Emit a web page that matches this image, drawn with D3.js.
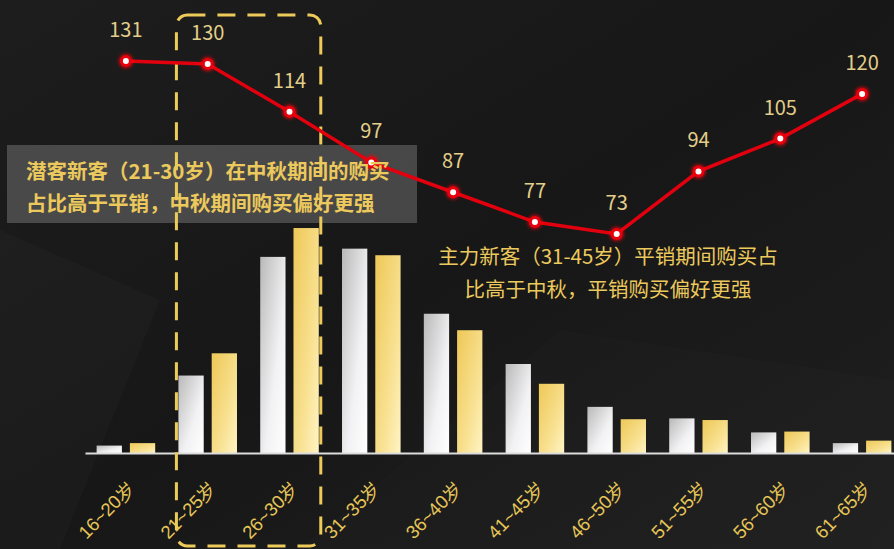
<!DOCTYPE html>
<html>
<head>
<meta charset="utf-8">
<script src="https://cdn.jsdelivr.net/npm/d3@7/dist/d3.min.js"></script>
<style>
  body { margin: 0; background: #1a1a1a; }
  svg { display: block; font-family: "Noto Sans CJK SC", "Noto Sans", sans-serif; }
</style>
</head>
<body>
<svg id="chart" width="894" height="549"></svg>
<script>
// age groups
var categories = ['16~20岁','21~25岁','26~30岁','31~35岁','36~40岁','41~45岁','46~50岁','51~55岁','56~60岁','61~65岁'];
var seriesNames = ['平销','中秋'];
// share of buyers (%)
var pingxiao = [0.9, 9.4, 23.8, 24.8, 16.9, 10.8, 5.6, 4.2, 2.5, 1.2];
var zhongqiu = [1.2, 12.1, 27.3, 24.0, 14.9, 8.4, 4.1, 4.0, 2.6, 1.5];
// index line
var tgi = [131, 130, 114, 97, 87, 77, 73, 94, 105, 120];
var note1 = ['潜客新客（21-30岁）在中秋期间的购买', '占比高于平销，中秋期间购买偏好更强'];
var note2 = ['主力新客（31-45岁）平销期间购买占', '比高于中秋，平销购买偏好更强'];

var W = 894, H = 549;
var svg = d3.select("#chart");
var defs = svg.append("defs");

// background
var bg = defs.append("linearGradient").attr("id","bg")
  .attr("x1",0).attr("y1",0).attr("x2",1).attr("y2",1);
bg.append("stop").attr("offset","0%").attr("stop-color","#1d1d1d");
bg.append("stop").attr("offset","50%").attr("stop-color","#171717");
bg.append("stop").attr("offset","100%").attr("stop-color","#1f1f1f");
svg.append("rect").attr("width",W).attr("height",H).attr("fill","url(#bg)");
svg.append("path")
  .attr("d","M 0,230 L 160,300 L 60,549 L 0,549 z")
  .attr("fill","#ffffff").attr("opacity",0.018);
svg.append("path")
  .attr("d","M 300,549 L 560,330 L 894,380 L 894,549 z")
  .attr("fill","#ffffff").attr("opacity",0.012);

// bar gradients
var gw = defs.append("linearGradient").attr("id","gWhite")
  .attr("x1",0).attr("y1",0).attr("x2",1).attr("y2",1);
gw.append("stop").attr("offset","0%").attr("stop-color","#b9b9b9");
gw.append("stop").attr("offset","60%").attr("stop-color","#f2f2f4");
gw.append("stop").attr("offset","100%").attr("stop-color","#ffffff");
var gg = defs.append("linearGradient").attr("id","gGold")
  .attr("x1",0).attr("y1",0).attr("x2",1).attr("y2",1);
gg.append("stop").attr("offset","0%").attr("stop-color","#eec857");
gg.append("stop").attr("offset","60%").attr("stop-color","#f8e08f");
gg.append("stop").attr("offset","100%").attr("stop-color","#fff4c4");

var glow = defs.append("filter").attr("id","glow")
  .attr("x","-50%").attr("y","-50%").attr("width","200%").attr("height","200%");
glow.append("feGaussianBlur").attr("stdDeviation",1.5);

// scales
var x0 = d3.scaleBand().domain(categories).range([85, 903])
  .paddingInner(0.284).paddingOuter(0.142);
var x1 = d3.scaleBand().domain(seriesNames).range([0, x0.bandwidth()])
  .paddingInner(0.24);
var yBar = d3.scaleLinear().domain([0, 30]).range([453, 205.8]);
var yLine = d3.scaleLinear().domain([0, 150]).range([451.5, 4.5]);

var rows = categories.map(function(c, i) {
  return {cat: c, values: [
    {key: '平销', v: pingxiao[i], fill: 'url(#gWhite)'},
    {key: '中秋', v: zhongqiu[i], fill: 'url(#gGold)'}
  ]};
});

// bars
var groups = svg.append("g").selectAll("g").data(rows).join("g")
  .attr("transform", function(d) { return "translate(" + x0(d.cat) + ",0)"; });
groups.selectAll("rect").data(function(d) { return d.values; }).join("rect")
  .attr("x", function(d) { return x1(d.key); })
  .attr("width", x1.bandwidth())
  .attr("y", function(d) { return yBar(d.v); })
  .attr("height", function(d) { return yBar(0) - yBar(d.v); })
  .attr("fill", function(d) { return d.fill; });

// x axis
var xAxis = svg.append("g")
  .attr("transform","translate(0,453)")
  .call(d3.axisBottom(x0).tickSize(0).tickPadding(0));
xAxis.select(".domain").attr("stroke","#dcdcdc").attr("stroke-width",2);
xAxis.selectAll("text")
  .attr("fill","#e7c658")
  .style("font-size","18.5px")
  .attr("text-anchor","end")
  .attr("dy","0")
  .attr("transform","translate(10,36) rotate(-46)");

// annotation box 1 (semi-transparent)
svg.append("rect")
  .attr("x",7).attr("y",145).attr("width",410).attr("height",78)
  .attr("fill","#8a8a8a").attr("opacity",0.42);

// dashed highlight around 21~30
var bx0 = x0(categories[1]) - 2;
var bx1 = x0(categories[2]) + x0.bandwidth() + 2;
svg.append("rect")
  .attr("x",bx0).attr("y",15)
  .attr("width",bx1 - bx0).attr("height",531)
  .attr("rx",11).attr("ry",11)
  .attr("fill","none")
  .attr("stroke","#eccb5b")
  .attr("stroke-width",3)
  .attr("stroke-dasharray","18,12");

// index line
var cx = function(i) { return x0(categories[i]) + x0.bandwidth() / 2; };
var line = d3.line()
  .x(function(d, i) { return cx(i); })
  .y(function(d) { return yLine(d); });
svg.append("path")
  .datum(tgi)
  .attr("d", line)
  .attr("fill","none")
  .attr("stroke","#e3000e")
  .attr("stroke-width",3.5);

var pts = svg.append("g").selectAll("g").data(tgi).join("g")
  .attr("transform", function(d, i) { return "translate(" + cx(i) + "," + yLine(d) + ")"; });
pts.append("circle").attr("r",7.5).attr("fill","#ff0010").attr("opacity",0.6)
  .attr("filter","url(#glow)");
pts.append("circle").attr("r",6).attr("fill","#e8000c");
pts.append("circle").attr("r",3).attr("fill","#ffffff");
pts.append("text")
  .attr("y",-24)
  .attr("text-anchor","middle")
  .attr("fill","#e2ce8a")
  .style("font-size","20px")
  .text(function(d) { return d; });

// annotation texts
svg.append("g").selectAll("text").data(note1).join("text")
  .attr("x",26).attr("y", function(d, i) { return 179 + i * 32; })
  .attr("fill","#ecc95c")
  .style("font-size","20.5px")
  .style("font-weight","bold")
  .text(function(d) { return d; });

svg.append("g").selectAll("text").data(note2).join("text")
  .attr("x",608).attr("y", function(d, i) { return 264 + i * 33; })
  .attr("text-anchor","middle")
  .attr("fill","#ecc95c")
  .style("font-size","20.5px")
  .text(function(d) { return d; });
</script>
</body>
</html>
